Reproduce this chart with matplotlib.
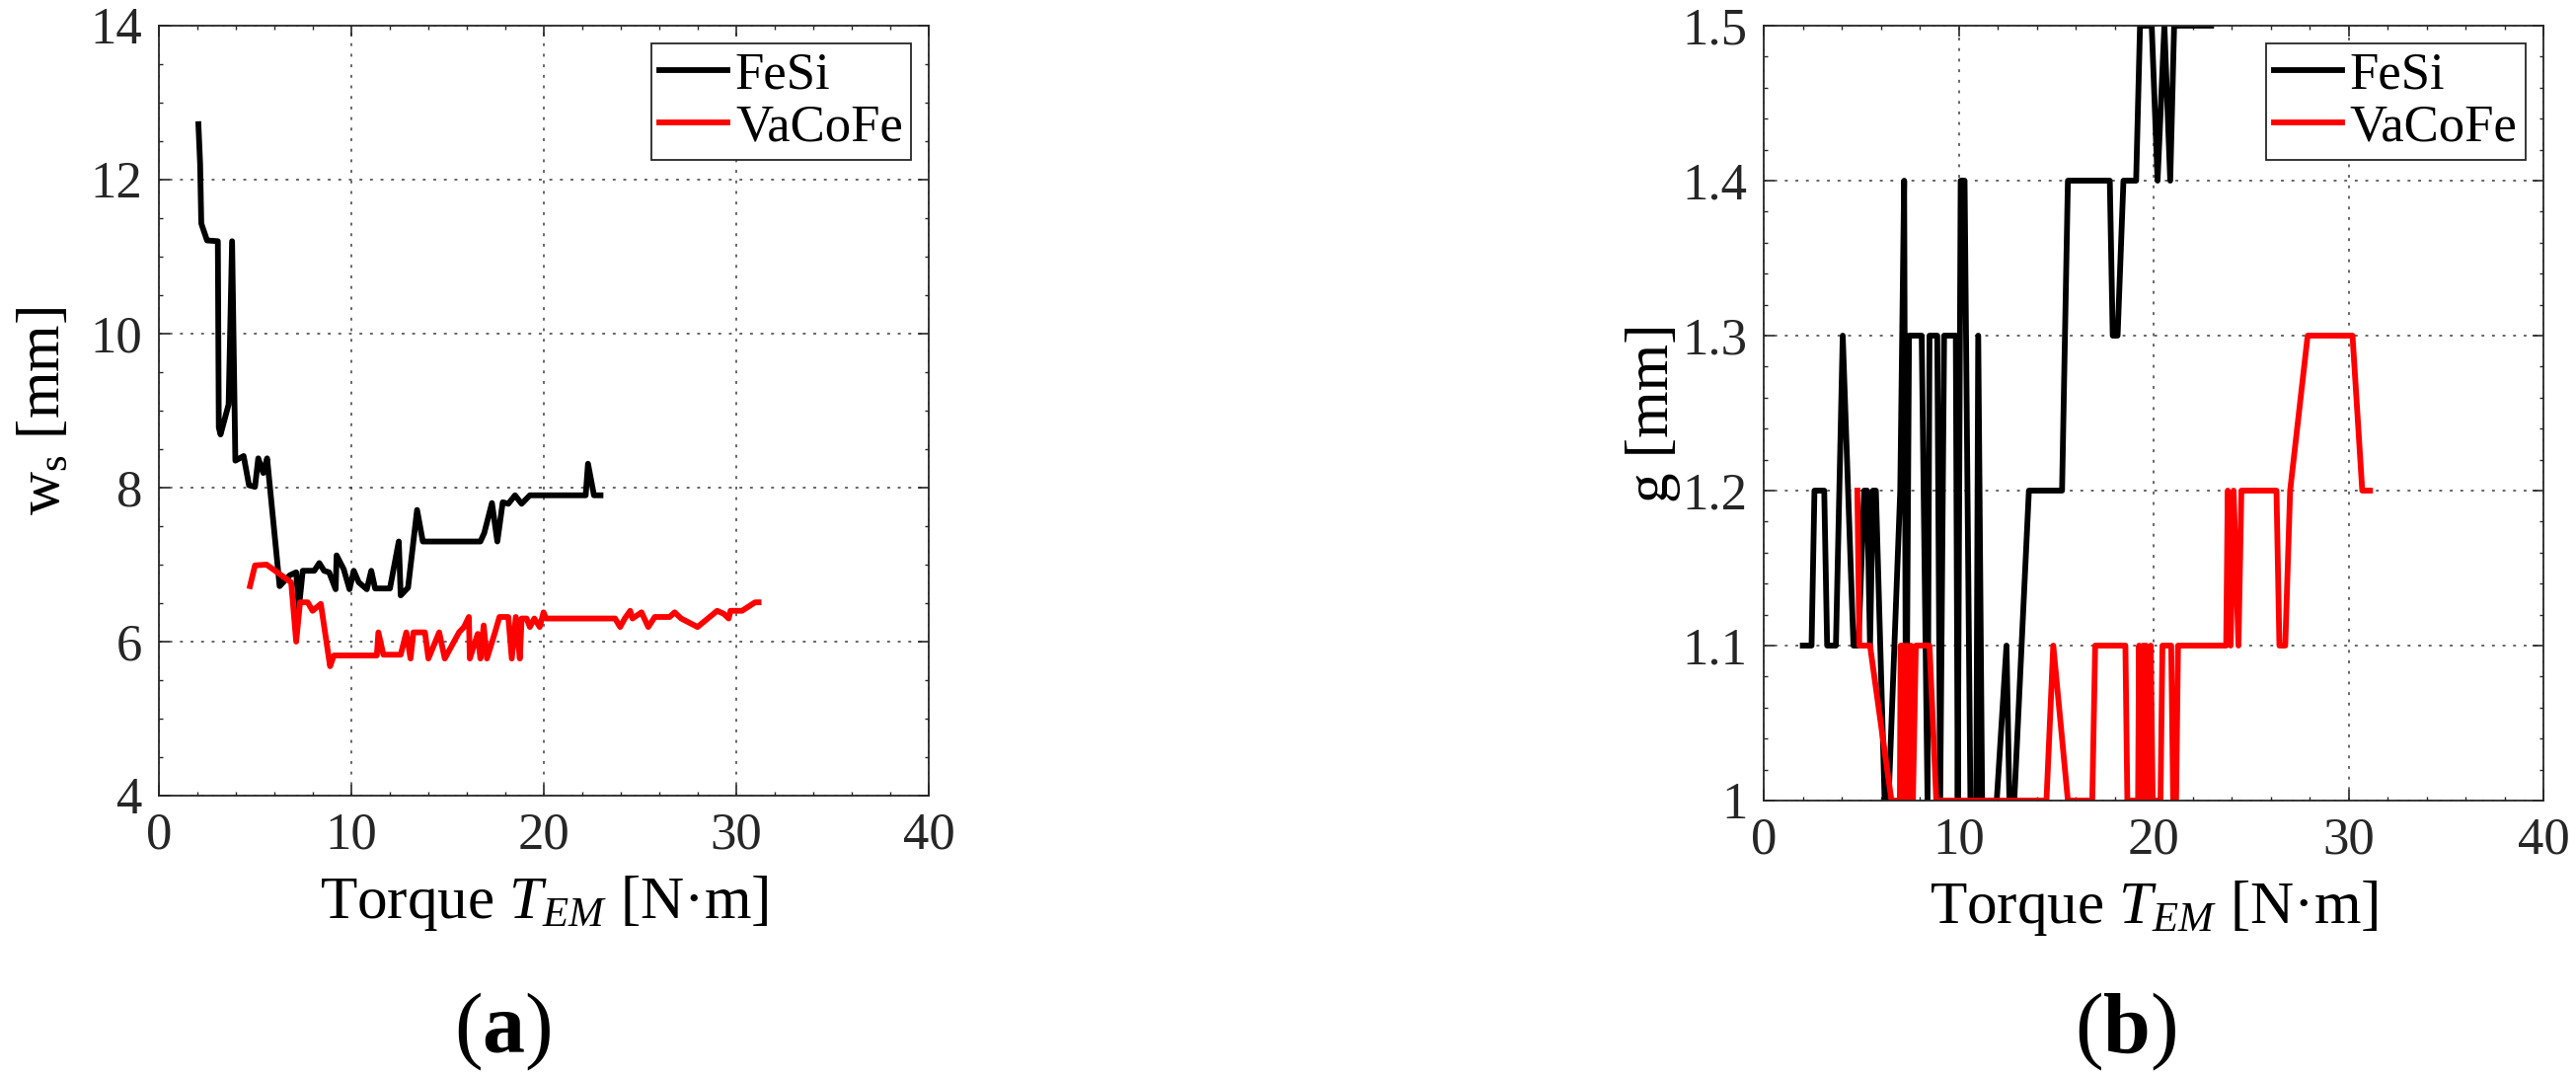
import matplotlib
matplotlib.use('Agg')
import matplotlib.pyplot as plt
from matplotlib.ticker import MultipleLocator, AutoMinorLocator

plt.rcParams['font.family'] = ['Liberation Serif', 'DejaVu Serif']
plt.rcParams['mathtext.fontset'] = 'custom'
plt.rcParams['mathtext.rm'] = 'Liberation Serif'
plt.rcParams['mathtext.it'] = 'Liberation Serif:italic'
plt.rcParams['mathtext.bf'] = 'Liberation Serif:bold'

# (a) slot width w_s [mm] vs torque
torque_fesi_a = [2.05, 2.14, 2.2, 2.5, 3.06, 3.11, 3.2, 3.62, 3.8, 3.97, 4.4, 4.68, 4.99, 5.16,
                 5.42, 5.62, 6.27, 6.79, 7.13, 7.27, 7.47, 8.07, 8.33, 8.58, 8.84, 9.18, 9.23,
                 9.6, 9.9, 10.12, 10.38, 10.8, 11.03, 11.23, 12.0, 12.46, 12.56, 12.94, 13.41,
                 13.71, 16.7, 16.9, 17.3, 17.58, 17.86, 18.15, 18.5, 18.84, 19.27, 22.17, 22.29,
                 22.6, 22.94]
ws_fesi = [12.72, 12.2, 11.43, 11.21, 11.2, 8.78, 8.69, 9.08, 11.2, 8.35, 8.41, 8.03, 8.01, 8.38,
           8.19, 8.38, 6.72, 6.86, 6.9, 6.43, 6.92, 6.92, 7.02, 6.92, 6.9, 6.68, 7.12,
           6.94, 6.68, 6.92, 6.77, 6.68, 6.92, 6.69, 6.69, 7.3, 6.6, 6.7, 7.71,
           7.3, 7.3, 7.41, 7.8, 7.3, 7.81, 7.79, 7.9, 7.79, 7.9, 7.9, 8.31,
           7.9, 7.9]

torque_vacofe_a = [4.73, 4.99, 5.59, 6.87, 7.13, 7.33, 7.73, 7.98, 8.41, 8.89, 9.09, 11.32, 11.4,
                   11.66, 12.56, 12.85, 13.07, 13.22, 13.82, 14.0, 14.56, 14.85, 15.59, 15.85,
                   16.1, 16.15, 16.56, 16.7, 16.87, 17.04, 17.47, 17.69, 18.15, 18.33, 18.54,
                   18.75, 18.84, 19.1, 19.27, 19.5, 19.78, 19.98, 20.11, 23.7, 23.96, 24.2,
                   24.48, 24.6, 25.07, 25.42, 25.76, 26.53, 26.79, 27.13, 27.98, 29.0, 29.35,
                   29.6, 29.69, 30.29, 30.97, 31.15]
ws_vacofe = [6.72, 6.99, 7.0, 6.77, 6.0, 6.51, 6.51, 6.4, 6.49, 5.68, 5.82, 5.82, 6.12,
             5.83, 5.83, 6.12, 5.78, 6.12, 6.12, 5.78, 6.12, 5.78, 6.12, 6.19,
             6.32, 5.78, 6.1, 5.78, 6.21, 5.78, 6.13, 6.32, 6.32, 5.78, 6.32,
             5.78, 6.3, 6.3, 6.19, 6.3, 6.19, 6.38, 6.3, 6.3, 6.19, 6.3,
             6.4, 6.3, 6.38, 6.19, 6.32, 6.32, 6.38, 6.3, 6.19, 6.4, 6.36,
             6.3, 6.4, 6.4, 6.51, 6.51]

# (b) air gap g [mm] vs torque
torque_fesi_b = [2.0, 2.45, 2.6, 3.1, 3.25, 3.7, 4.05, 4.6, 4.85, 5.15, 5.3, 5.45, 5.6, 5.75,
                 6.2, 6.4, 7.0, 7.2, 7.3, 7.45, 8.1, 8.4, 8.5, 8.9, 9.05, 9.25, 9.85, 9.95,
                 10.1, 10.3, 10.6, 10.9, 11.0, 11.2, 11.95, 12.45, 12.6, 12.85, 13.6, 15.3,
                 15.6, 17.75, 17.9, 18.15, 18.45, 19.1, 19.3, 19.9, 20.2, 20.55, 20.85, 21.05,
                 22.95]
g_fesi = [1.1, 1.1, 1.2, 1.2, 1.1, 1.1, 1.3, 1.1, 1.1, 1.2, 1.2, 1.1, 1.2, 1.2,
          1.0, 1.0, 1.2, 1.4, 1.0, 1.3, 1.3, 1.0, 1.3, 1.3, 1.0, 1.3, 1.3, 1.0,
          1.4, 1.4, 1.0, 1.0, 1.3, 1.0, 1.0, 1.1, 1.0, 1.0, 1.2, 1.2,
          1.4, 1.4, 1.3, 1.3, 1.4, 1.4, 1.5, 1.5, 1.4, 1.5, 1.4, 1.5,
          1.5]

torque_vacofe_b = [4.8, 4.9, 5.45, 6.55, 6.98, 7.02, 7.1, 7.16, 7.24, 7.35, 7.45, 7.55, 7.65,
                   7.8, 8.5, 8.85, 14.5, 14.85, 15.6, 16.85, 17.0, 18.55, 18.65, 19.2, 19.25,
                   19.35, 19.45, 19.55, 19.6, 19.75, 19.85, 19.95, 20.35, 20.45, 20.9, 21.0,
                   21.15, 21.25, 23.72, 23.8, 23.95, 24.1, 24.35, 24.5, 26.3, 26.45, 26.75,
                   27.0, 27.9, 30.2, 30.7, 31.1]
g_vacofe = [1.2, 1.1, 1.1, 1.0, 1.0, 1.1, 1.0, 1.1, 1.0, 1.1, 1.0, 1.1, 1.0,
            1.1, 1.1, 1.0, 1.0, 1.1, 1.0, 1.0, 1.1, 1.1, 1.0, 1.0, 1.1,
            1.0, 1.1, 1.0, 1.1, 1.0, 1.1, 1.0, 1.0, 1.1, 1.1, 1.0,
            1.0, 1.1, 1.1, 1.2, 1.1, 1.2, 1.1, 1.2, 1.2, 1.1, 1.1,
            1.2, 1.3, 1.3, 1.2, 1.2]

dark = '#262626'
lw = 4.2

fig = plt.figure(figsize=(26.1, 10.89), dpi=100)
ax1 = fig.add_axes([0.0617, 0.2599, 0.2989, 0.7163])
ax2 = fig.add_axes([0.6847, 0.2553, 0.3027, 0.7208])


def style(ax, ylim, ystep, ylabel):
    ax.set_xlim(0, 40)
    ax.set_ylim(*ylim)
    ax.xaxis.set_major_locator(MultipleLocator(10))
    ax.yaxis.set_major_locator(MultipleLocator(ystep))
    ax.xaxis.set_minor_locator(AutoMinorLocator(5))
    ax.yaxis.set_minor_locator(AutoMinorLocator(5))
    ax.grid(True, which='major', linestyle=(0, (1.5, 4)), color=dark, alpha=0.7, linewidth=1.4)
    ax.tick_params(which='major', direction='in', length=8, width=1.2, top=True, right=True,
                   labelsize=38, pad=12, colors=dark)
    ax.tick_params(which='minor', direction='in', length=3, width=1.0, top=True, right=True,
                   colors=dark)
    for s in ax.spines.values():
        s.set_color(dark)
        s.set_linewidth(1.3)
    ax.set_xlabel('Torque $T_{EM}$ [N·m]', fontsize=44, labelpad=10)
    ax.set_ylabel(ylabel, fontsize=44, labelpad=14)
    ax.legend(loc='upper right', fontsize=38, frameon=True, fancybox=False, framealpha=1,
              edgecolor=dark, borderpad=0.15, labelspacing=0.1, handlelength=1.3,
              handletextpad=0.15, borderaxespad=0.35).get_frame().set_linewidth(1.3)


ax1.plot(torque_fesi_a, ws_fesi, color='black', lw=lw, label='FeSi')
ax1.plot(torque_vacofe_a, ws_vacofe, color='#ff0000', lw=lw, label='VaCoFe')
style(ax1, (4, 14), 2, r'w$_{\mathrm{s}}$ [mm]')
ax1.yaxis.set_minor_locator(AutoMinorLocator(4))

ax2.plot(torque_fesi_b, g_fesi, color='black', lw=lw, label='FeSi')
ax2.plot(torque_vacofe_b, g_vacofe, color='#ff0000', lw=lw, label='VaCoFe')
style(ax2, (1, 1.5), 0.1, 'g [mm]')
ax2.yaxis.set_major_formatter(plt.FuncFormatter(lambda v, p: '1' if abs(v - 1) < 1e-9 else '%g' % v))
ax2.yaxis.set_label_coords(-0.107, 0.5)

fig.text(0.1950, 0.040, r'$(\mathbf{a})$', fontsize=62, ha='center', va='center')
fig.text(0.8250, 0.040, r'$(\mathbf{b})$', fontsize=62, ha='center', va='center')

fig.savefig('out.png', dpi=100)
